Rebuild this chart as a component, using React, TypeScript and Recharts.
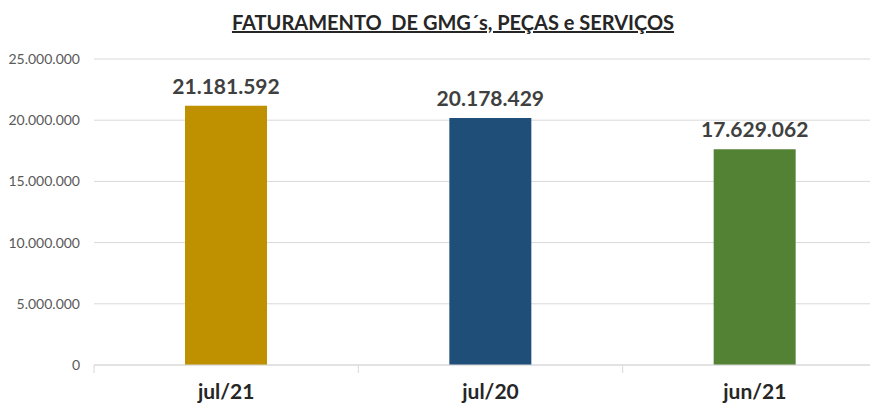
import React from 'react';
import { BarChart, Bar, XAxis, YAxis, CartesianGrid, LabelList, Cell } from 'recharts';

const categories = ['jul/21', 'jul/20', 'jun/21'];
const faturamento = [21181592, 20178429, 17629062];
const barColors = ['#BF9000', '#1F4E79', '#548235'];
const yTicks = [0, 5000000, 10000000, 15000000, 20000000, 25000000];

const data = categories.map((mes, i) => ({ mes, valor: faturamento[i] }));

const fmt = (v: number) => String(Math.round(v)).replace(/\B(?=(\d{3})+(?!\d))/g, '.');

const FONT = 'Lato, "Open Sans", sans-serif';

const CategoryTick = (props: any) => {
  const { x, y, payload, index } = props;
  const half = payload && payload.offset ? payload.offset : 132;
  const axisY = y - 8;
  return (
    <g>
      <line x1={x - half} y1={axisY} x2={x - half} y2={axisY + 8} stroke="#d9d9d9" />
      {index === categories.length - 1 && (
        <line x1={x + half} y1={axisY} x2={x + half} y2={axisY + 8} stroke="#d9d9d9" />
      )}
      <text x={x} y={y + 26} textAnchor="middle" fill="#262626" fontSize={21} fontWeight={700} fontFamily={FONT}>
        {payload.value}
      </text>
    </g>
  );
};

export default function App() {
  return (
    <div style={{ margin: '-8px 0 0 -8px', width: 878, height: 406, overflow: 'hidden', position: 'relative', background: '#fff' }}>
      <div
        style={{
          position: 'absolute',
          top: 10,
          left: 0,
          width: 906,
          textAlign: 'center',
          fontFamily: FONT,
          fontWeight: 700,
          fontSize: 20,
          color: '#262626',
          textDecoration: 'underline',
          whiteSpace: 'pre',
        }}
      >
        {'FATURAMENTO  DE GMG´s, PEÇAS e SERVIÇOS'}
      </div>
      <BarChart width={887} height={406} data={data} margin={{ top: 59, right: 0, bottom: 0, left: 0 }} barSize={82}>
        <CartesianGrid vertical={false} stroke="#d9d9d9" />
        <XAxis
          dataKey="mes"
          height={41}
          stroke="#d9d9d9"
          tickLine={false}
          tickSize={8}
          tickMargin={0}
          tick={<CategoryTick />}
          interval={0}
        />
        <YAxis
          width={94}
          domain={[0, 25000000]}
          ticks={yTicks}
          tickFormatter={fmt}
          axisLine={false}
          tickLine={false}
          tickMargin={8}
          tick={{ fill: '#595959', fontSize: 14, fontFamily: FONT }}
        />
        <Bar dataKey="valor" isAnimationActive={false}>
          {data.map((d, i) => (
            <Cell key={d.mes} fill={barColors[i]} />
          ))}
          <LabelList
            dataKey="valor"
            position="top"
            offset={12}
            formatter={(v: any) => fmt(Number(v))}
            style={{ fill: '#404040', fontSize: 21, fontWeight: 700, fontFamily: FONT }}
          />
        </Bar>
      </BarChart>
    </div>
  );
}
